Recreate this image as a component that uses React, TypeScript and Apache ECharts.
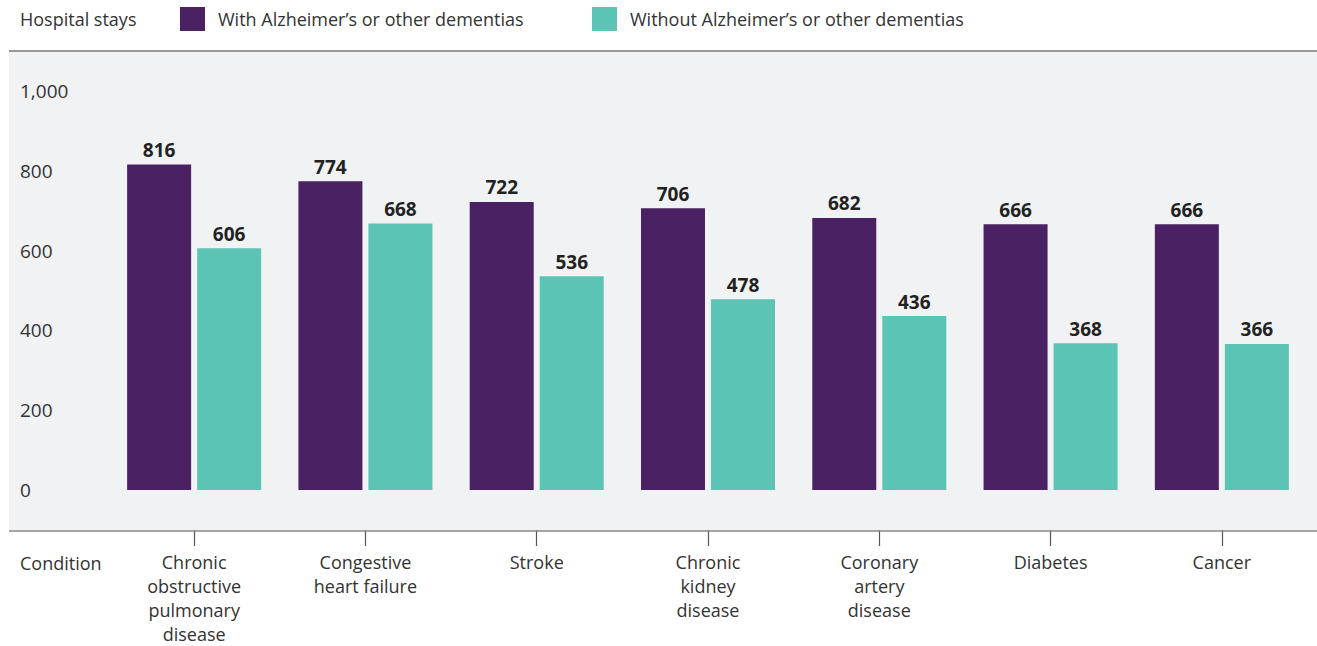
import React, { useEffect, useRef } from "react";
import * as echarts from "echarts";

const categories = [
  "Chronic\nobstructive\npulmonary\ndisease",
  "Congestive\nheart failure",
  "Stroke",
  "Chronic\nkidney\ndisease",
  "Coronary\nartery\ndisease",
  "Diabetes",
  "Cancer",
];
const withDementia = [816, 774, 722, 706, 682, 666, 666];
const withoutDementia = [606, 668, 536, 478, 436, 368, 366];
const seriesNames = ["With Alzheimer\u2019s or other dementias", "Without Alzheimer\u2019s or other dementias"];

const FONT = "'Open Sans', 'Noto Sans', sans-serif";

export default function App() {
  const ref = useRef<HTMLDivElement>(null);
  useEffect(() => {
    if (!ref.current) return;
    document.body.style.margin = "0";
    document.body.style.overflow = "hidden";
    const chart = echarts.init(ref.current, undefined, { renderer: "svg" });
    const W = 1317;
    const legendText = { fontSize: 18, color: "#333", fontFamily: FONT, padding: [0, 0, 0, 8] };
    chart.setOption({
      animation: false,
      textStyle: { fontFamily: FONT },
      graphic: [
        { type: "rect", z: -10, silent: true, shape: { x: 9, y: 51, width: W - 9, height: 480 }, style: { fill: "#f1f2f4" } },
        { type: "line", z: 10, silent: true, shape: { x1: 9, y1: 51, x2: W, y2: 51 }, style: { stroke: "#777", lineWidth: 1.5 } },
        { type: "line", z: 10, silent: true, shape: { x1: 9, y1: 531, x2: W, y2: 531 }, style: { stroke: "#8a8a8a", lineWidth: 1.5 } },
        { type: "text", left: 20, top: 7, style: { text: "Hospital stays", font: `18px ${FONT}`, fill: "#333", lineHeight: 24 } },
        { type: "text", left: 20, top: 551, style: { text: "Condition", font: `18px ${FONT}`, fill: "#333", lineHeight: 24 } },
      ],
      legend: [
        {
          left: 180, top: 7, padding: 0, itemWidth: 25, itemHeight: 24, icon: "rect",
          textStyle: legendText, data: [seriesNames[0]],
        },
        {
          left: 592, top: 7, padding: 0, itemWidth: 25, itemHeight: 24, icon: "rect",
          textStyle: legendText, data: [seriesNames[1]],
        },
      ],
      grid: { left: 108.5, right: 9.5, top: 91, bottom: 155 },
      xAxis: {
        type: "category",
        data: categories,
        offset: 40,
        axisLine: { show: false, onZero: false },
        axisTick: { show: true, interval: 0, alignWithLabel: true, length: 16, lineStyle: { color: "#555", width: 1.2 } },
        axisLabel: { margin: 20, fontSize: 18, color: "#333", lineHeight: 24, interval: 0 },
      },
      yAxis: {
        type: "value",
        min: 0,
        max: 1000,
        interval: 200,
        splitLine: { show: false },
        axisLine: { show: false },
        axisTick: { show: false },
        axisLabel: {
          align: "left",
          margin: 88.5,
          fontSize: 19,
          color: "#333",
          formatter: (v: number) => v.toLocaleString("en-US"),
        },
      },
      series: [
        {
          name: seriesNames[0],
          type: "bar",
          data: withDementia,
          barWidth: 64,
          barGap: "9.4%",
          itemStyle: { color: "#4a2163" },
          label: { show: true, position: "top", distance: 5, fontSize: 19, fontWeight: "bold", color: "#222" },
        },
        {
          name: seriesNames[1],
          type: "bar",
          data: withoutDementia,
          barWidth: 64,
          itemStyle: { color: "#5bc4b5" },
          label: { show: true, position: "top", distance: 5, fontSize: 19, fontWeight: "bold", color: "#222" },
        },
      ],
    });
    return () => chart.dispose();
  }, []);
  return <div ref={ref} style={{ width: 1317, height: 646 }} />;
}
